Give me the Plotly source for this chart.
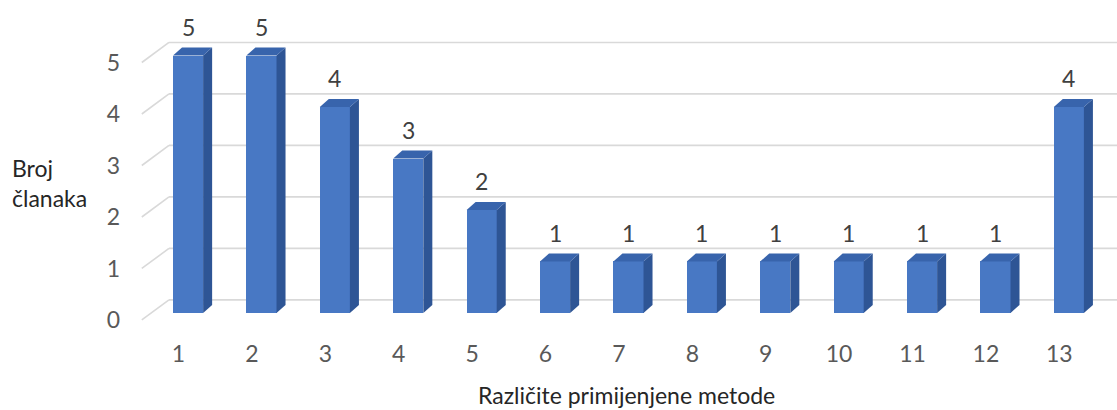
import plotly.graph_objects as go

# Data
categories = list(range(1, 14))
values = [5, 5, 4, 3, 2, 1, 1, 1, 1, 1, 1, 1, 4]
y_ticks = [0, 1, 2, 3, 4, 5]

# Pseudo-3D geometry (in axis units)
BAR_W = 0.41        # front face width
BAR_SHIFT_X = 0.13  # bar front plane offset from axis front plane
BAR_SHIFT_Y = 0.136
DEPTH_X = 0.123     # bar depth (side/top faces)
DEPTH_Y = 0.155
WALL_X = 0.37       # back wall offset
WALL_Y = 0.39

FRONT = "#4878c4"
SIDE = "#2e5595"
TOP = "#3864ac"
GRID = "#d9d9d9"
FONT = "Lato"

fig = go.Figure()

# Back wall gridlines with the diagonal floor edge on the left (kept below the bars)
x_left = categories[0] - 0.5
x_right = categories[-1] + 0.5 + WALL_X + 0.2
for t in y_ticks:
    fig.add_shape(type="line", layer="below", xref="x", yref="y",
                  x0=x_left, y0=t, x1=x_left + WALL_X, y1=t + WALL_Y,
                  line=dict(color=GRID, width=1.6))
    fig.add_shape(type="line", layer="below", xref="x", yref="y",
                  x0=x_left + WALL_X, y0=t + WALL_Y, x1=x_right, y1=t + WALL_Y,
                  line=dict(color=GRID, width=1.6))

# Front faces
fig.add_trace(go.Bar(
    x=[c + BAR_SHIFT_X for c in categories],
    y=values,
    base=[BAR_SHIFT_Y] * len(values),
    width=BAR_W,
    marker=dict(color=FRONT, line=dict(width=0)),
    hoverinfo="skip", showlegend=False))

# Side and top faces
for c, v in zip(categories, values):
    xl = c + BAR_SHIFT_X - BAR_W / 2
    xr = c + BAR_SHIFT_X + BAR_W / 2
    yb = BAR_SHIFT_Y
    yt = v + BAR_SHIFT_Y
    fig.add_trace(go.Scatter(
        x=[xr, xr + DEPTH_X, xr + DEPTH_X, xr, xr],
        y=[yb, yb + DEPTH_Y, yt + DEPTH_Y, yt, yb],
        fill="toself", fillcolor=SIDE, mode="lines",
        line=dict(width=0, color=SIDE),
        hoverinfo="skip", showlegend=False))
    fig.add_trace(go.Scatter(
        x=[xl, xr, xr + DEPTH_X, xl + DEPTH_X, xl],
        y=[yt, yt, yt + DEPTH_Y, yt + DEPTH_Y, yt],
        fill="toself", fillcolor=TOP, mode="lines",
        line=dict(width=0, color=TOP),
        hoverinfo="skip", showlegend=False))

# Value labels above the bars
for c, v in zip(categories, values):
    fig.add_annotation(
        x=c + BAR_SHIFT_X, y=v + 0.69, text=str(v), showarrow=False,
        xanchor="center", yanchor="middle",
        font=dict(family=FONT, size=23, color="#404040"))

# Axis titles
fig.add_annotation(
    x=-0.116, y=0.4586, xref="paper", yref="paper",
    text="Broj<br>članaka", showarrow=False, align="left",
    xanchor="left", yanchor="middle",
    font=dict(family=FONT, size=23, color="#262626"))
fig.add_annotation(
    x=0.506, y=-0.1686, xref="paper", yref="paper",
    text="Različite primijenjene metode", showarrow=False,
    xanchor="center", yanchor="middle",
    font=dict(family=FONT, size=23, color="#262626"))

fig.update_layout(
    width=1117, height=410,
    margin=dict(l=125, r=0, t=0, b=72),
    plot_bgcolor="white", paper_bgcolor="white",
    bargap=0,
    xaxis=dict(
        range=[0.271, 13.786], tickmode="array", tickvals=categories,
        ticktext=[str(c) for c in categories],
        showgrid=False, zeroline=False, showline=False,
        tickfont=dict(family=FONT, size=23, color="#595959")),
    yaxis=dict(
        range=[-0.35, 6.214], tickmode="array", tickvals=y_ticks,
        ticktext=[str(t) for t in y_ticks],
        showgrid=False, zeroline=False, showline=False,
        ticklabelstandoff=4,
        tickfont=dict(family=FONT, size=23, color="#595959")),
)

fig.write_html("out.html")
